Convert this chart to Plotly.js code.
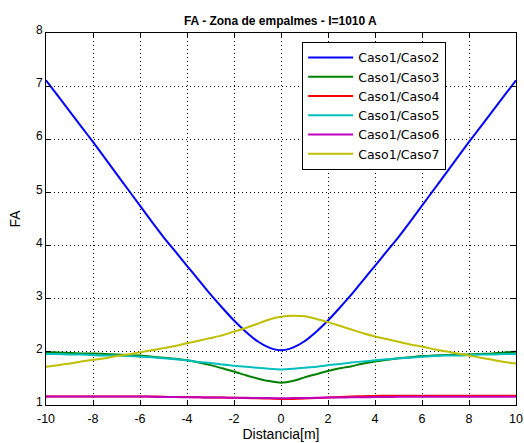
<!DOCTYPE html>
<html>
<head>
<meta charset="utf-8">
<script src="https://cdn.plot.ly/plotly-3.0.1.min.js"></script>
<style>html,body{margin:0;padding:0;background:#fff;}#chart{width:524px;height:443px;}</style>
</head>
<body>
<div id="chart"></div>
<script>
var distancia = [-10,-9.5,-9,-8.5,-8,-7.5,-7,-6.5,-6,-5.5,-5,-4.5,-4,-3.5,-3,-2.5,-2,-1.5,-1,-0.5,0,0.5,1,1.5,2,2.5,3,3.5,4,4.5,5,5.5,6,6.5,7,7.5,8,8.5,9,9.5,10];
var caso2 = [7.11,6.82,6.53,6.24,5.95,5.65,5.35,5.05,4.75,4.45,4.16,3.89,3.62,3.35,3.08,2.83,2.59,2.38,2.20,2.08,2.03,2.08,2.20,2.38,2.59,2.83,3.08,3.35,3.62,3.89,4.16,4.45,4.75,5.05,5.35,5.65,5.95,6.24,6.53,6.82,7.11];
var caso3 = [1.99,1.99,1.98,1.97,1.97,1.96,1.95,1.94,1.93,1.91,1.89,1.87,1.84,1.80,1.75,1.69,1.63,1.56,1.50,1.45,1.42,1.45,1.52,1.58,1.64,1.69,1.73,1.78,1.82,1.85,1.88,1.90,1.92,1.93,1.94,1.95,1.95,1.96,1.97,1.99,2.00];
var caso4 = [1.16,1.16,1.16,1.16,1.16,1.16,1.16,1.16,1.16,1.16,1.155,1.15,1.15,1.145,1.14,1.14,1.135,1.13,1.125,1.12,1.115,1.115,1.12,1.13,1.14,1.15,1.16,1.165,1.17,1.175,1.175,1.175,1.175,1.175,1.175,1.175,1.175,1.175,1.175,1.175,1.175];
var caso5 = [1.96,1.96,1.95,1.95,1.94,1.93,1.93,1.92,1.91,1.90,1.88,1.86,1.84,1.81,1.79,1.76,1.74,1.72,1.70,1.68,1.67,1.68,1.70,1.72,1.75,1.77,1.80,1.82,1.84,1.86,1.88,1.89,1.91,1.92,1.93,1.93,1.94,1.95,1.95,1.96,1.96];
var caso6 = [1.16,1.16,1.16,1.16,1.16,1.16,1.16,1.16,1.16,1.155,1.15,1.15,1.145,1.145,1.14,1.14,1.135,1.135,1.13,1.13,1.125,1.13,1.13,1.135,1.14,1.14,1.145,1.145,1.15,1.15,1.155,1.155,1.155,1.155,1.155,1.155,1.155,1.155,1.155,1.155,1.155];
var caso7 = [1.72,1.75,1.78,1.82,1.85,1.88,1.92,1.95,1.99,2.03,2.07,2.11,2.16,2.21,2.26,2.31,2.38,2.45,2.53,2.61,2.66,2.68,2.67,2.62,2.56,2.49,2.42,2.35,2.29,2.24,2.19,2.14,2.10,2.05,2.01,1.97,1.93,1.89,1.85,1.81,1.78];

var seriesNames = ['Caso1/Caso2','Caso1/Caso3','Caso1/Caso4','Caso1/Caso5','Caso1/Caso6','Caso1/Caso7'];
var seriesData = [caso2, caso3, caso4, caso5, caso6, caso7];
var seriesColors = ['#0000ff','#008000','#ff0000','#00bfbf','#bf00bf','#bfbf00'];
var xTicks = [-10,-8,-6,-4,-2,0,2,4,6,8,10];
var yTicks = [1,2,3,4,5,6,7,8];

var traces = seriesData.map(function(d, i){
  return {x: distancia, y: d, type: 'scatter', mode: 'lines', name: seriesNames[i],
    line: {color: seriesColors[i], width: 2, shape: 'spline', smoothing: 0.6}};
});

var axisCommon = {
  showline: true, linecolor: '#000', linewidth: 1, mirror: 'ticks',
  ticks: 'inside', ticklen: 5, tickcolor: '#000', tickwidth: 1,
  showgrid: true, gridcolor: '#000', gridwidth: 1, griddash: '1px,3px',
  zeroline: false
};

var layout = {
  width: 524, height: 443,
  margin: {l: 46, r: 8, t: 33, b: 38},
  paper_bgcolor: '#fff', plot_bgcolor: '#fff',
  font: {family: 'Liberation Sans, Arial, sans-serif', color: '#000'},
  title: {text: '<b>FA - Zona de empalmes - I=1010 A</b>', x: 0.535, xanchor: 'center', y: 0.953, yanchor: 'middle',
    font: {size: 12, color: '#000'}},
  xaxis: Object.assign({}, axisCommon, {range: [-10, 10], tickvals: xTicks, ticktext: xTicks.map(String),
    tickfont: {family: 'Liberation Sans, Arial, sans-serif', size: 12.5, color: '#000'}, ticklabelstandoff: 2,
    title: {text: 'Distancia[m]', font: {size: 14}, standoff: 2}}),
  yaxis: Object.assign({}, axisCommon, {range: [1, 8], tickvals: yTicks, ticktext: yTicks.map(String),
    tickfont: {family: 'Liberation Sans, Arial, sans-serif', size: 12, color: '#000'}, ticklabelshift: -3,
    title: {text: 'FA', font: {size: 14}, standoff: 12}}),
  showlegend: true,
  legend: {x: 0.545, y: 0.976, xanchor: 'left', yanchor: 'top', bgcolor: '#fff', bordercolor: '#000', borderwidth: 1,
    font: {family: 'DejaVu Sans, sans-serif', size: 12.5, color: '#000'}, itemwidth: 45, tracegroupgap: 0}
};

Plotly.newPlot('chart', traces, layout, {displayModeBar: false, staticPlot: true});
</script>
</body>
</html>
